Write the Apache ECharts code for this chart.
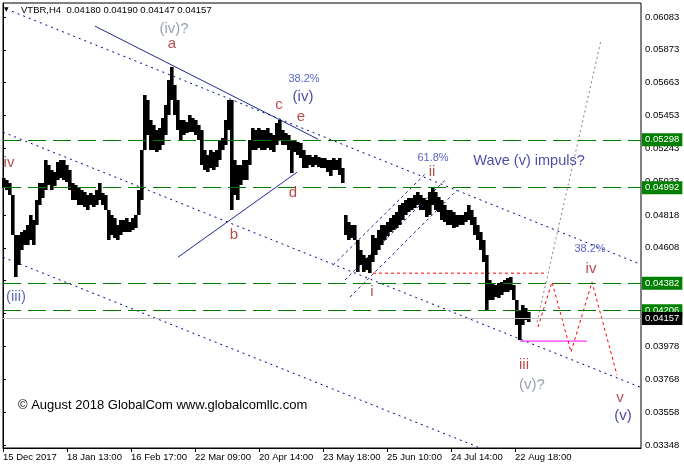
<!DOCTYPE html>
<html><head><meta charset="utf-8">
<script src="https://cdn.jsdelivr.net/npm/echarts@6/dist/echarts.min.js"></script>
<style>html,body{margin:0;padding:0;background:#fff}#c{width:684px;height:469px}</style>
</head><body><div id="c"></div>
<script>
// ---- data (VTBR, H4), one sample every 3 bars: high / low ----
const barsPerSample = 3;
const highs = [
0.05053,0.05040,0.05021,0.04944,0.04689,0.04689,0.04708,0.04721,0.04753,0.04817,
0.04785,0.04912,0.05021,0.05021,0.05168,0.05136,0.05104,0.05091,0.05155,0.05168,
0.05168,0.05136,0.05104,0.05021,0.05008,0.04989,0.04976,0.04964,0.04944,0.04957,
0.04944,0.04976,0.05021,0.04957,0.04944,0.04849,0.04817,0.04798,0.04753,0.04785,
0.04785,0.04798,0.04772,0.04798,0.04817,0.04976,0.05232,0.05583,0.05551,0.05423,
0.05391,0.05359,0.05372,0.05436,0.05519,0.05679,0.05762,0.05647,0.05551,0.05423,
0.05423,0.05411,0.05455,0.05436,0.05423,0.05391,0.05359,0.05232,0.05200,0.05232,
0.05219,0.05232,0.05296,0.05308,0.05423,0.05551,0.05551,0.05168,0.05136,0.05136,
0.05168,0.05168,0.05296,0.05372,0.05359,0.05372,0.05359,0.05359,0.05372,0.05340,
0.05328,0.05404,0.05423,0.05359,0.05340,0.05328,0.05296,0.05296,0.05283,0.05276,
0.05232,0.05200,0.05200,0.05187,0.05200,0.05187,0.05181,0.05181,0.05168,0.05168,
0.05181,0.05168,0.05181,0.05117,0.04817,0.04772,0.04753,0.04753,0.04657,0.04593,
0.04561,0.04542,0.04561,0.04689,0.04670,0.04721,0.04753,0.04753,0.04772,0.04798,
0.04817,0.04836,0.04881,0.04893,0.04912,0.04925,0.04925,0.04944,0.04964,0.04944,
0.04925,0.04912,0.04964,0.04995,0.04964,0.04932,0.04912,0.04881,0.04849,0.04849,
0.04836,0.04817,0.04817,0.04817,0.04836,0.04881,0.04849,0.04804,0.04753,0.04708,
0.04657,0.04561,0.04402,0.04382,0.04370,0.04382,0.04389,0.04402,0.04414,0.04421,
0.04370,0.04274,0.04210,0.04242,0.04223,0.04197];
const lows = [
0.04989,0.04976,0.04944,0.04689,0.04421,0.04497,0.04593,0.04625,0.04625,0.04657,
0.04625,0.04753,0.04881,0.04925,0.04976,0.05008,0.04976,0.05002,0.05040,0.05053,
0.05040,0.05027,0.04976,0.04912,0.04912,0.04881,0.04881,0.04868,0.04849,0.04881,
0.04868,0.04881,0.04912,0.04881,0.04849,0.04657,0.04689,0.04670,0.04657,0.04689,
0.04708,0.04708,0.04708,0.04721,0.04734,0.04817,0.04912,0.05232,0.05328,0.05232,
0.05232,0.05219,0.05232,0.05264,0.05328,0.05455,0.05551,0.05455,0.05359,0.05296,
0.05328,0.05340,0.05347,0.05347,0.05328,0.05296,0.05136,0.05104,0.05091,0.05117,
0.05104,0.05123,0.05168,0.05232,0.05264,0.05359,0.04849,0.04944,0.04912,0.05008,
0.05040,0.05040,0.05136,0.05232,0.05232,0.05245,0.05232,0.05232,0.05245,0.05232,
0.05219,0.05264,0.05296,0.05264,0.05264,0.05232,0.05085,0.05219,0.05200,0.05181,
0.05117,0.05117,0.05136,0.05123,0.05136,0.05123,0.05117,0.05117,0.05091,0.05066,
0.05104,0.05104,0.05072,0.05021,0.04689,0.04657,0.04670,0.04657,0.04453,0.04497,
0.04453,0.04465,0.04446,0.04516,0.04561,0.04593,0.04625,0.04657,0.04683,0.04708,
0.04721,0.04734,0.04753,0.04785,0.04817,0.04836,0.04849,0.04861,0.04881,0.04849,
0.04849,0.04804,0.04817,0.04881,0.04849,0.04836,0.04785,0.04772,0.04753,0.04753,
0.04734,0.04740,0.04753,0.04753,0.04772,0.04785,0.04753,0.04689,0.04657,0.04593,
0.04516,0.04210,0.04274,0.04274,0.04293,0.04287,0.04306,0.04325,0.04325,0.04338,
0.04274,0.04114,0.04018,0.04114,0.04146,0.04133];

// axis ticks
const xTicks = [0, 64, 128, 192, 256, 320, 384, 448, 512];
const xTickLabels = ['15 Dec 2017','18 Jan 13:00','16 Feb 17:00','22 Mar 09:00','20 Apr 14:00','23 May 18:00','25 Jun 10:00','24 Jul 14:00','22 Aug 18:00'];
const yTicks = [0.03348,0.03558,0.03768,0.03978,0.04188,0.04398,0.04608,0.04818,0.05033,0.05243,0.05453,0.05663,0.05873,0.06083];
const yTickLabels = ['0.03348','0.03558','0.03768','0.03978','0.04188','0.04398','0.04608','0.04818','0.05033','0.05243','0.05453','0.05663','0.05873','0.06083'];

// horizontal levels and last price
const levels = [0.05298, 0.04992, 0.04382, 0.04206];
const lastPrice = 0.04157;
const headerText = 'VTBR,H4  0.04180 0.04190 0.04147 0.04157';

// drawn objects: [bar index, price]
const chanTop = [[9, 0.06119], [637, 0.04504]];
const chanMid = [[0, 0.05347], [637, 0.03718]];
const chanLow = [[0, 0.04548], [475, 0.03335]];
const triTop = [[92, 0.06024], [315, 0.05302]];
const triBot = [[175, 0.04548], [294, 0.05091]];
const iiChan1 = [[330, 0.04497], [424, 0.05091]];
const iiChan2 = [[342, 0.04402], [444, 0.05053]];
const iiChan3 = [[347, 0.04293], [454, 0.04976]];
const wave1Level = [[370, 0.04446], [542, 0.04446]];
const wave3Level = [[517, 0.04012], [584, 0.04012]];
const projPath = [[535, 0.04102], [549, 0.04389], [568, 0.03942], [589, 0.04389], [614, 0.03795]];
const altPath = [[534, 0.04133], [598, 0.05934]];

// text annotations: [bar index, price, text]
const minorLabels = [[169,0.05909,'a'],[276,0.05519,'c'],[298,0.05443,'e'],[290,0.04957,'d'],[231,0.04689,'b'],
  [6,0.05149,'iv'],[429,0.05091,'ii'],[369,0.04325,'i'],[521,0.03859,'iii'],[588,0.04472,'iv'],[617,0.03648,'v']];
const majorLabels = [[300,0.05570,'(iv)'],[620,0.03533,'(v)']];
const majorLabels3 = [[13,0.04293,'(iii)']];
const altLabels = [[171,0.06004,'(iv)?'],[529,0.03731,'(v)?']];
const fibLabels = [[301,0.05685,'38.2%'],[430,0.05181,'61.8%'],[587,0.04600,'38.2%']];
const titleLabels = [[526,0.05162,'Wave (v) impuls?']];
const copyright = '\u00A9 August 2018 GlobalCom www.globalcomllc.com';

// ---- chart ----
const FF = 'Liberation Sans';
const chart = echarts.init(document.getElementById('c'), null, {renderer:'canvas'});
const bars = highs.map((h, i) => [i * barsPerSample, h, lows[i]]);

function lineSeries(data, color, type, width) {
  return {type:'line', data, showSymbol:false, symbol:'none', silent:true, animation:false,
    lineStyle:{color, type, width: width || 1}, z:3};
}
function textSeries(items, color, size) {
  return {type:'scatter', symbolSize:0, silent:true, animation:false, z:5,
    data: items.map(a => ({value:[a[0], a[1]], name:a[2]})),
    label:{show:true, position:'inside', formatter:'{b}', color, fontSize:size, fontFamily:FF}};
}
const lvlLabel = (bg) => ({show:true, position:'end', distance:1, formatter: p => Number(p.value).toFixed(5),
  backgroundColor:bg, color:'#fff', fontSize:9.5, fontFamily:FF, padding:[2,3,1,3]});

chart.setOption({
  animation:false,
  backgroundColor:'#fff',
  grid:{left:3, top:3, width:638, height:445, show:true, borderColor:'#000', borderWidth:1, backgroundColor:'transparent'},
  xAxis:{type:'value', min:0, max:638, splitLine:{show:false},
    axisLine:{show:true, lineStyle:{color:'#000'}},
    axisTick:{show:true, customValues:xTicks, length:4, lineStyle:{color:'#000'}},
    axisLabel:{customValues:xTicks, formatter:v => xTickLabels[xTicks.indexOf(v)] || '', align:'left',
      margin:4, color:'#000', fontSize:9.5, fontFamily:FF}},
  yAxis:{type:'value', position:'right', min:0.03329, max:0.06172, splitLine:{show:false},
    axisLine:{show:true, lineStyle:{color:'#000'}},
    axisTick:{show:true, customValues:yTicks, length:3, lineStyle:{color:'#000'}},
    axisLabel:{customValues:yTicks, formatter:v => { const k = yTicks.findIndex(t => Math.abs(t - v) < 1e-7); return k >= 0 ? yTickLabels[k] : ''; },
      margin:4, color:'#000', fontSize:9.5, fontFamily:FF}},
  graphic:[
    {type:'text', left:4, top:6, style:{text:'\u25BC', fontSize:6, fill:'#000', fontFamily:'DejaVu Sans'}},
    {type:'text', left:21, top:5, style:{text:headerText, fontSize:9.5, fill:'#000', fontFamily:FF}},
    {type:'text', left:18, top:399, style:{text:copyright, fontSize:13, fill:'#000', fontFamily:FF}}
  ],
  series:[
    {type:'custom', data:bars, encode:{x:0, y:[1,2]}, silent:true, animation:false, z:4,
      renderItem:(params, api) => {
        const hi = api.coord([api.value(0), api.value(1)]);
        const lo = api.coord([api.value(0), api.value(2)]);
        const w = api.size([barsPerSample, 0])[0];
        const x0 = Math.round(hi[0] - w / 2);
        return {type:'rect', shape:{x:x0, y:Math.round(hi[1]), width:Math.round(w) + 0.6, height:Math.max(1, Math.round(lo[1] - hi[1]))},
          style:{fill:'#000'}};
      },
      markLine:{symbol:'none', silent:true, animation:false, precision:5,
        data:[
          ...levels.map(v => ({yAxis:v, lineStyle:{color:'#007a00', type:[18,7], width:1}, label:lvlLabel('#008000')})),
          {yAxis:lastPrice, lineStyle:{color:'#c0c0c0', type:'solid', width:1}, label:lvlLabel('#000')}
        ]}
    },
    lineSeries(chanTop, '#00008b', [2,4]),
    lineSeries(chanMid, '#00008b', [2,4]),
    lineSeries(chanLow, '#00008b', [2,4]),
    lineSeries(triTop, '#1c2a94', 'solid'),
    lineSeries(triBot, '#1c2a94', 'solid'),
    lineSeries(iiChan1, '#1c2a94', [3,3]),
    lineSeries(iiChan2, '#1c2a94', [3,3]),
    lineSeries(iiChan3, '#1c2a94', [3,3]),
    lineSeries(wave1Level, '#ff0000', [3,3]),
    lineSeries(wave3Level, '#ff00ff', 'solid'),
    lineSeries(projPath, '#ff0000', [3,3]),
    lineSeries(altPath, '#808080', [2,3]),
    textSeries(minorLabels, '#a82020', 15),
    textSeries(majorLabels, '#16168c', 15),
    textSeries(majorLabels3, '#3346b0', 15),
    textSeries(altLabels, '#7d8aa3', 15),
    textSeries(fibLabels, '#2b3bbd', 11),
    textSeries(titleLabels, '#1c1c96', 14.5)
  ]
});
</script>
</body></html>
